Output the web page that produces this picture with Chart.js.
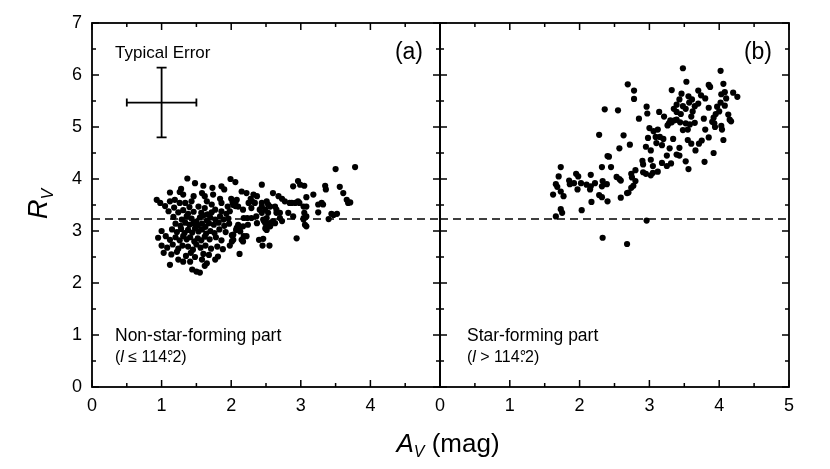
<!DOCTYPE html>
<html lang="en">
<head>
<meta charset="UTF-8">
<title>R_V versus A_V</title>
<script src="https://cdn.jsdelivr.net/npm/chart.js"></script>
<style>
  body { margin: 0; background: #fff; }
  #wrap { position: relative; width: 830px; height: 469px; }
  #wrap canvas { position: absolute; left: 0; top: 0; }
</style>
</head>
<body>
<div id="wrap">
  <canvas id="chartA" width="830" height="469"></canvas>
  <canvas id="chartB" width="830" height="469"></canvas>
</div>

<script>
// ---- data (A_V in mag, R_V) ----
const nonStarForming = [
  [3.50,4.19],[3.78,4.23],[1.37,4.01],[1.99,4.00],[2.06,3.94],[2.44,3.89],[2.96,3.96],[2.89,3.86],[3.05,3.87],[2.99,3.89],
  [1.48,3.92],[1.60,3.87],[1.73,3.83],[1.86,3.86],[1.90,3.80],[1.28,3.81],[1.26,3.75],[1.12,3.74],
  [1.31,3.70],[1.46,3.67],[1.58,3.73],[1.62,3.67],[1.74,3.70],[1.84,3.62],[1.86,3.54],[0.93,3.60],[0.98,3.54],[1.12,3.57],
  [1.19,3.60],[1.26,3.54],[1.34,3.54],[1.43,3.57],[1.53,3.47],[1.65,3.57],[1.72,3.51],[1.77,3.41],[1.86,3.38],
  [3.35,3.87],[3.36,3.80],[3.56,3.85],[3.61,3.73],[3.66,3.60],[3.71,3.55],[3.68,3.54],[3.18,3.70],[3.08,3.65],
  [2.87,3.54],[2.98,3.54],[3.08,3.47],[3.30,3.54],[3.25,3.51],[3.32,3.51],
  [3.25,3.36],[3.40,3.23],[3.47,3.31],[3.52,3.33],[3.44,3.33],[3.04,3.22],[3.06,3.12],[3.08,3.09],[3.05,3.35],[3.08,3.28],
  [3.04,3.25],[2.82,3.35],[2.89,3.28],[2.94,2.86],[2.70,3.25],[2.60,3.19],[2.51,3.25],[2.46,3.22],[2.37,3.15],[2.29,3.25],
  [2.60,3.73],[2.68,3.67],[2.73,3.62],[2.77,3.57],[2.51,3.57],[2.44,3.54],[2.37,3.67],[2.32,3.70],[2.22,3.73],[2.15,3.76],
  [2.08,3.60],[2.03,3.54],[2.10,3.47],[2.17,3.41],[2.25,3.54],[2.29,3.44],[2.41,3.41],[2.49,3.41],[2.56,3.47],[2.65,3.41],
  [2.70,3.35],[2.84,3.54],[2.92,3.54],[2.96,3.57],[3.04,3.47],
  [2.17,3.09],[2.13,2.99],[2.08,3.06],[2.03,2.93],[2.01,2.80],[2.22,2.90],[2.51,3.02],[2.56,3.09],[2.63,3.15],[2.73,3.19],
  [2.49,3.15],[2.17,2.80],[2.46,2.85],[2.55,2.72],[2.12,2.56],[1.98,2.72],[1.88,2.65],
  [2.28,3.62],[2.30,3.57],[2.34,3.54],[2.44,3.47],[2.53,3.51],[2.63,3.47],[2.65,3.35],[2.53,3.35],[2.44,3.35],[2.36,3.28],
  [2.47,3.19],[2.53,3.12],[2.49,3.05],[2.55,3.15],[2.23,3.25],[2.18,3.25],[2.24,3.12],[2.10,3.12],[2.07,3.02],[2.12,3.04],
  [2.01,2.92],[2.03,2.83],[2.15,2.83],[2.18,2.90],[2.40,2.83],[2.45,2.72],
  [2.00,3.62],[2.02,3.55],[2.03,3.50],[2.06,3.55],[2.06,3.48],
  [1.05,3.48],[1.18,3.45],[1.40,3.46],[1.62,3.44],[1.95,3.47],
  [1.10,3.38],[1.24,3.36],[1.31,3.40],[1.38,3.33],[1.46,3.37],[1.57,3.35],[1.66,3.32],[1.72,3.36],[1.93,3.33],[1.98,3.38],
  [1.17,3.27],[1.29,3.22],[1.36,3.28],[1.43,3.24],[1.50,3.18],[1.55,3.26],[1.60,3.30],[1.65,3.20],[1.70,3.26],[1.77,3.22],
  [1.84,3.28],[1.89,3.22],[1.96,3.24],
  [1.20,3.14],[1.27,3.10],[1.34,3.16],[1.40,3.12],[1.46,3.15],[1.52,3.10],[1.58,3.14],[1.63,3.08],[1.68,3.15],[1.75,3.12],
  [1.82,3.16],[1.90,3.10],[1.97,3.14],
  [1.00,3.00],[1.15,3.03],[1.22,2.98],[1.28,3.04],[1.33,2.96],[1.38,3.02],[1.44,2.97],[1.48,3.05],[1.53,2.99],[1.58,3.03],
  [1.64,2.95],[1.70,3.00],[1.76,2.96],[1.83,3.03],[1.92,2.98],
  [0.95,2.87],[1.06,2.90],[1.12,2.83],[1.20,2.88],[1.26,2.82],[1.31,2.90],[1.36,2.84],[1.41,2.88],[1.47,2.80],[1.52,2.86],
  [1.57,2.82],[1.62,2.89],[1.69,2.84],[1.78,2.88],[1.86,2.82],
  [1.00,2.72],[1.08,2.68],[1.16,2.74],[1.24,2.66],[1.30,2.72],[1.38,2.70],[1.45,2.64],[1.50,2.74],[1.56,2.68],[1.63,2.72],
  [1.71,2.66],[1.80,2.70],
  [1.03,2.58],[1.14,2.55],[1.22,2.60],[1.35,2.52],[1.42,2.58],[1.48,2.50],[1.60,2.56],[1.68,2.54],[1.81,2.51],
  [1.12,2.35],[1.24,2.45],[1.31,2.41],[1.41,2.41],[1.58,2.45],[1.65,2.38],[1.77,2.45],[1.62,2.33],
  [1.50,2.22],[1.55,2.20],[1.44,2.26]
];

const starForming = [
  [3.48,6.13],[4.02,6.08],[3.53,5.87],[2.69,5.82],[2.78,5.70],[2.78,5.54],[4.06,5.83],[3.85,5.81],[3.87,5.77],[3.32,5.71],
  [4.08,5.67],[4.03,5.63],[4.20,5.66],[4.26,5.58],[3.46,5.64],[3.56,5.59],[3.61,5.53],[3.74,5.61],[3.70,5.45],
  [3.43,5.53],[3.39,5.43],[3.48,5.40],[3.39,5.29],[3.52,5.35],[3.62,5.30],[3.57,5.47],
  [4.02,5.47],[4.08,5.41],[3.97,5.39],[3.85,5.37],[2.36,5.34],[2.55,5.32],
  [2.96,5.39],[2.97,5.26],[3.14,5.29],[2.85,5.16],
  [3.21,5.20],[3.30,5.13],[3.36,5.13],[3.28,5.07],[3.26,5.03],[3.32,5.09],
  [3.39,5.14],[3.44,5.09],[3.52,5.07],[3.58,5.05],[3.65,5.08],[3.48,4.94],
  [3.78,5.16],[3.92,5.18],[3.93,5.07],[3.94,5.00],[4.03,5.02],[4.04,4.95],[4.13,5.24],[4.15,5.14],[4.17,5.11],
  [4.06,4.75],[2.28,4.85],[2.63,4.84],
  [3.06,4.92],[2.98,4.79],[3.09,4.81],[3.15,4.81],[3.20,4.77],[3.18,4.65],[3.10,4.69],[3.34,4.77],
  [3.75,4.74],[3.71,4.68],[3.66,4.55],[2.57,4.59],[2.72,4.66],
  [3.29,4.59],[3.43,4.60],[3.39,4.47],[3.43,4.45],[3.52,4.34],[3.56,4.19],
  [3.92,4.50],[3.79,4.33],
  [2.40,4.44],[2.42,4.43],[2.32,4.23],[2.45,4.23],
  [2.90,4.35],[3.02,4.37],[2.91,4.28],[3.18,4.31],[3.31,4.30],
  [1.73,4.23],[1.70,4.05],
  [2.80,4.17],[2.74,4.10],[2.91,4.13],[2.95,4.10],[3.05,4.12],[3.12,4.14],[3.02,4.07],
  [1.95,4.10],[1.98,4.05],[2.16,4.08],[2.53,4.04],[2.57,4.00],[2.59,3.97],[2.75,4.03],
  [1.85,3.97],[1.86,3.90],[1.92,3.92],[2.02,3.92],[2.10,3.89],[2.16,3.86],[2.22,3.92],[2.33,3.96],[2.39,3.90],[2.32,3.86],
  [1.66,3.90],[1.68,3.85],[1.73,3.76],[1.77,3.67],[1.62,3.70],
  [1.97,3.80],[2.15,3.80],[2.28,3.69],[2.32,3.65],[2.40,3.57],[2.17,3.56],
  [2.59,3.64],[2.68,3.73],[2.74,3.83],[2.70,3.74],[2.77,3.87],[2.80,3.96],
  [1.73,3.42],[1.75,3.35],[1.66,3.28],[2.03,3.40],
  [2.96,3.20],[2.33,2.87],[2.68,2.75],
  [3.45,5.25],[3.60,5.20],[3.55,4.95],[3.12,4.95],[3.00,4.98],[2.95,4.62],[3.02,4.55],[3.55,4.75],[3.60,4.68],[3.85,4.80],
  [3.80,4.95],[3.95,5.25],[4.00,5.30],[3.90,5.10],[3.25,4.45],[3.25,4.25],[3.05,4.25],[3.70,5.70],[3.80,5.55],[4.10,5.55],
  [3.65,5.40],[3.35,5.35]
];

const xTickStep = 1;
const yTickStep = 1;
const minorStep = 0.5;
const avRange = [0, 5];
const rvRange = [0, 7];
const refRv = 3.23;          // dashed reference line
const errAv = [0.5, 1.0, 1.5];   // typical error, horizontal bar
const errRv = [4.80, 5.47, 6.14]; // typical error, vertical bar

const FONT = "'Liberation Sans', Arial, sans-serif";

function drawRuns(ctx, x, y, runs) {
  for (const [text, font, dy] of runs) {
    ctx.font = font;
    ctx.fillText(text, x, y + (dy || 0));
    x += ctx.measureText(text).width;
  }
  return x;
}

// "114°.2" with the degree sign sitting over the decimal point
function drawLongitude(ctx, x, y, relation) {
  const f = '16px ' + FONT;
  x = drawRuns(ctx, x, y, [['(', f], ['l', 'italic ' + f], [relation, f], ['114', f]]);
  ctx.font = f;
  const wDot = ctx.measureText('.').width;
  const wDeg = ctx.measureText('°').width;
  ctx.fillText('.', x, y);
  ctx.fillText('°', x + (wDot - wDeg) / 2 + 1, y);
  x += Math.max(wDot, wDeg) - 1;
  drawRuns(ctx, x, y, [['2)', f]]);
}

const frameTicks = {
  id: 'frameTicks',
  afterDraw(chart) {
    const { ctx, chartArea: a, scales: { x, y } } = chart;
    ctx.save();
    ctx.strokeStyle = '#000';
    ctx.lineWidth = 1.8;
    ctx.strokeRect(a.left, a.top, a.right - a.left, a.bottom - a.top);
    ctx.lineWidth = 1.5;
    ctx.beginPath();
    for (let v = avRange[0]; v <= avRange[1] + 1e-9; v += minorStep) {
      const px = x.getPixelForValue(v);
      const len = Math.abs(v % xTickStep) < 1e-9 ? 7 : 4;
      ctx.moveTo(px, a.bottom); ctx.lineTo(px, a.bottom - len);
      ctx.moveTo(px, a.top); ctx.lineTo(px, a.top + len);
    }
    for (let v = rvRange[0]; v <= rvRange[1] + 1e-9; v += minorStep) {
      const py = y.getPixelForValue(v);
      const len = Math.abs(v % yTickStep) < 1e-9 ? 7 : 4;
      ctx.moveTo(a.left, py); ctx.lineTo(a.left + len, py);
      ctx.moveTo(a.right, py); ctx.lineTo(a.right - len, py);
    }
    ctx.stroke();
    ctx.restore();
  }
};

const labelsA = {
  id: 'labelsA',
  afterDraw(chart) {
    const { ctx, chartArea: a, scales: { x, y } } = chart;
    ctx.save();
    ctx.fillStyle = '#000';
    ctx.strokeStyle = '#000';
    ctx.textBaseline = 'alphabetic';

    // typical error cross
    ctx.lineWidth = 1.8;
    const x0 = x.getPixelForValue(errAv[0]), x1 = x.getPixelForValue(errAv[1]), x2 = x.getPixelForValue(errAv[2]);
    const y0 = y.getPixelForValue(errRv[0]), y1 = y.getPixelForValue(errRv[1]), y2 = y.getPixelForValue(errRv[2]);
    ctx.beginPath();
    ctx.moveTo(x0, y1); ctx.lineTo(x2, y1);
    ctx.moveTo(x0, y1 - 4); ctx.lineTo(x0, y1 + 4);
    ctx.moveTo(x2, y1 - 4); ctx.lineTo(x2, y1 + 4);
    ctx.moveTo(x1, y0); ctx.lineTo(x1, y2);
    ctx.moveTo(x1 - 5, y0); ctx.lineTo(x1 + 5, y0);
    ctx.moveTo(x1 - 5, y2); ctx.lineTo(x1 + 5, y2);
    ctx.stroke();

    ctx.textAlign = 'left';
    ctx.font = '17px ' + FONT;
    ctx.fillText('Typical Error', a.left + 23, a.top + 35);

    ctx.textAlign = 'right';
    ctx.font = '23px ' + FONT;
    ctx.fillText('(a)', a.right - 17, a.top + 36);

    ctx.textAlign = 'left';
    ctx.font = '17.5px ' + FONT;
    ctx.fillText('Non-star-forming part', a.left + 23, 341);
    drawLongitude(ctx, a.left + 23, 362, ' \u2264 ');

    // y axis title R_V
    ctx.translate(47, 204);
    ctx.rotate(-Math.PI / 2);
    ctx.font = 'italic 27px ' + FONT;
    const wR = ctx.measureText('R').width;
    ctx.font = 'italic 16px ' + FONT;
    const wV = ctx.measureText('V').width;
    drawRuns(ctx, -(wR + wV) / 2, 0, [['R', 'italic 27px ' + FONT], ['V', 'italic 16px ' + FONT, 6]]);
    ctx.restore();
  }
};

const labelsB = {
  id: 'labelsB',
  afterDraw(chart) {
    const { ctx, chartArea: a } = chart;
    ctx.save();
    ctx.fillStyle = '#000';
    ctx.textBaseline = 'alphabetic';

    ctx.textAlign = 'right';
    ctx.font = '23px ' + FONT;
    ctx.fillText('(b)', a.right - 17, a.top + 36);

    ctx.textAlign = 'left';
    ctx.font = '17.5px ' + FONT;
    ctx.fillText('Star-forming part', a.left + 27, 341);
    drawLongitude(ctx, a.left + 27, 362, ' > ');

    // x axis title A_V (mag), centred under both panels
    const runs = [['A', 'italic 26px ' + FONT], ['V', 'italic 16px ' + FONT, 5], [' (mag)', '26px ' + FONT]];
    let w = 0;
    for (const [t, f] of runs) { ctx.font = f; w += ctx.measureText(t).width; }
    drawRuns(ctx, 448 - w / 2, 452, runs);
    ctx.restore();
  }
};

function axisX(hideLast) {
  return {
    type: 'linear', min: avRange[0], max: avRange[1],
    afterFit: s => { s.height = 82; },
    grid: { display: false, drawTicks: false },
    border: { display: false },
    ticks: {
      stepSize: xTickStep, padding: 8, color: '#000',
      font: { family: FONT, size: 18 },
      callback: v => (hideLast && v === avRange[1]) ? '' : v
    }
  };
}

function pointsSet(rows) {
  return {
    type: 'scatter',
    data: rows.map(([x, y]) => ({ x, y })),
    pointRadius: 3.1,
    pointBackgroundColor: '#000',
    pointBorderWidth: 0,
    pointHoverRadius: 3.1
  };
}

const refLine = () => ({
  type: 'line',
  data: [{ x: avRange[0], y: refRv }, { x: avRange[1], y: refRv }],
  borderColor: '#000',
  borderWidth: 1.5,
  borderDash: [8, 5],
  pointRadius: 0,
  fill: false
});

const common = {
  responsive: false,
  animation: false,
  events: [],
  plugins: { legend: { display: false }, tooltip: { enabled: false } }
};

new Chart(document.getElementById('chartA'), {
  type: 'scatter',
  data: { datasets: [pointsSet(nonStarForming), refLine()] },
  options: {
    ...common,
    layout: { padding: { left: 0, top: 23, right: 390, bottom: 0 } },
    scales: {
      x: axisX(true),
      y: {
        min: rvRange[0], max: rvRange[1],
        afterFit: s => { s.width = 92; },
        grid: { display: false, drawTicks: false },
        border: { display: false },
        ticks: { stepSize: yTickStep, padding: 10, color: '#000', font: { family: FONT, size: 18 } }
      }
    }
  },
  plugins: [frameTicks, labelsA]
});

new Chart(document.getElementById('chartB'), {
  type: 'scatter',
  data: { datasets: [pointsSet(starForming), refLine()] },
  options: {
    ...common,
    layout: { padding: { left: 440, top: 23, right: 41, bottom: 0 } },
    scales: {
      x: axisX(false),
      y: { display: false, min: rvRange[0], max: rvRange[1] }
    }
  },
  plugins: [frameTicks, labelsB]
});
</script>
</body>
</html>
